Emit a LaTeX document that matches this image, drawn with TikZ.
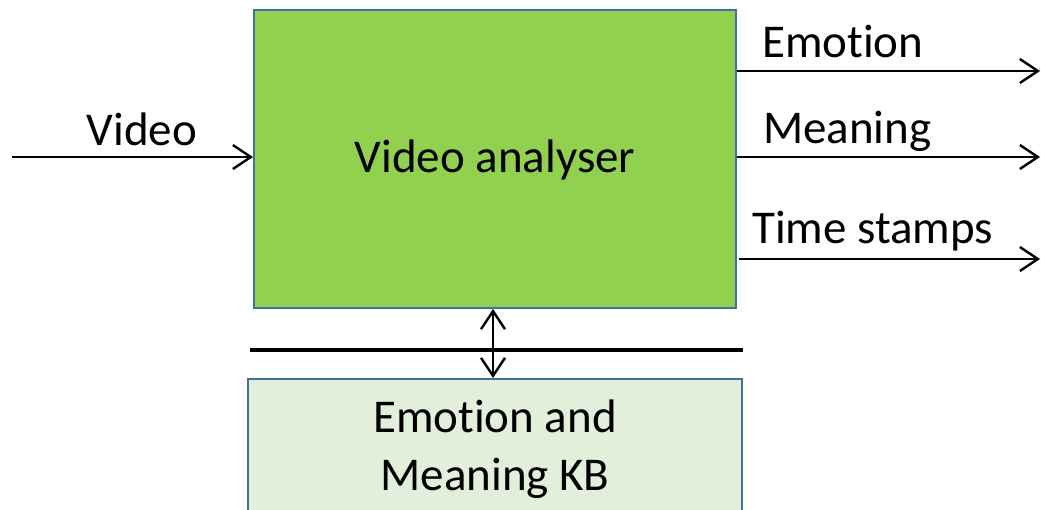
\documentclass[tikz,border=0pt]{standalone}
\usepackage{fontspec}
\setmainfont{Carlito}[Ligatures=NoCommon]
\usetikzlibrary{arrows.meta}
\definecolor{boxgreen}{HTML}{92D050}
\definecolor{kbgreen}{HTML}{E2EFDA}
\definecolor{boxborder}{HTML}{41719C}
\tikzset{
  lbl/.style={inner sep=0pt, font=\fontsize{47}{56}\selectfont},
  tip/.style={Straight Barb[length=18pt,width=24pt,line width=2.4pt]},
  flow/.style={line width=2.4pt, -{Straight Barb[length=18pt,width=24pt,line width=2.4pt]}},
  block/.style={draw=boxborder, line width=2.2pt}
}
\begin{document}
\begin{tikzpicture}[x=1pt,y=-1pt]
\useasboundingbox (0,0) rectangle (1041,509);
% main box
\draw[block, fill=boxgreen] (254,10) rectangle (736,308);
\node[lbl] (va) at (495,160) {Video analyser};
\coordinate (vaW) at (253,157);
% KB box
\draw[block, fill=kbgreen] (248,379) rectangle (742,530);
\node[lbl, anchor=base] (kb1) at (495,432) {Emotion and};
\node[lbl, anchor=base] (kb2) at (495,490) {Meaning KB};
% separator
\draw[line width=4pt] (250,350) -- (743,350);
% double arrow
\coordinate (dTop) at (493,309);
\coordinate (dBot) at (493,378);
\draw[line width=2.4pt, {Straight Barb[length=18pt,width=24pt,line width=2.4pt]}-{Straight Barb[length=18pt,width=24pt,line width=2.4pt]}] (dTop) -- (dBot);
% input
\coordinate (vin) at (12,157);
\draw[flow] (vin) -- (vaW);
\node[lbl, anchor=base] (vlbl) at (142,145) {Video};
% outputs
\coordinate (o1s) at (737,71);  \coordinate (o1e) at (1040,71);
\coordinate (o2s) at (737,157); \coordinate (o2e) at (1040,157);
\coordinate (o3s) at (739,259); \coordinate (o3e) at (1040,259);
\draw[flow] (o1s) -- (o1e);
\draw[flow] (o2s) -- (o2e);
\draw[flow] (o3s) -- (o3e);
\node[lbl, anchor=base west] (l1) at (762,57) {Emotion};
\node[lbl, anchor=base west] (l2) at (763,143) {Meaning};
\node[lbl, anchor=base west] (l3) at (752,243) {Time stamps};
\end{tikzpicture}
\end{document}
